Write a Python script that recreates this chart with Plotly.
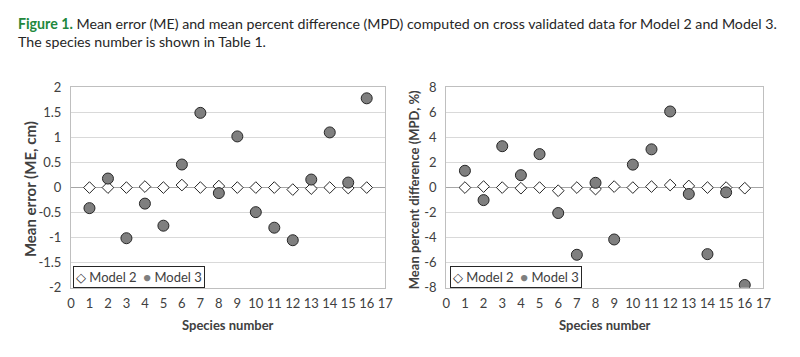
import plotly.graph_objects as go

species = list(range(1, 17))
me_model2 = [0.0, 0.0, 0.0, 0.02, 0.0, 0.05, 0.0, 0.03, 0.0, 0.0, 0.0, -0.04, -0.02, 0.0, -0.01, 0.0]
me_model3 = [-0.41, 0.18, -1.01, -0.32, -0.76, 0.46, 1.49, -0.11, 1.02, -0.49, -0.80, -1.05, 0.16, 1.10, 0.10, 1.78]
mpd_model2 = [0.0, 0.08, 0.0, -0.05, 0.0, -0.25, 0.0, -0.12, 0.08, 0.0, 0.08, 0.2, 0.13, 0.0, 0.0, -0.05]
mpd_model3 = [1.34, -1.0, 3.3, 0.99, 2.67, -2.03, -5.36, 0.38, -4.14, 1.83, 3.05, 6.07, -0.51, -5.31, -0.38, -7.77]

x_ticks = list(range(0, 18))
me_ticks = [-2, -1.5, -1, -0.5, 0, 0.5, 1, 1.5, 2]
mpd_ticks = [-8, -6, -4, -2, 0, 2, 4, 6, 8]
series_names = ["Model 2", "Model 3"]

FONT = "Lato, 'Open Sans', sans-serif"
TXT = "#404040"

m2 = dict(symbol="diamond", size=9, color="white", line=dict(color="#262626", width=1))
m3 = dict(symbol="circle", size=11, color="#7f7f7f", line=dict(color="#262626", width=1))

fig = go.Figure()
fig.add_trace(go.Scatter(x=species, y=me_model2, mode="markers", marker=m2, name=series_names[0],
                         xaxis="x", yaxis="y"))
fig.add_trace(go.Scatter(x=species, y=me_model3, mode="markers", marker=m3, name=series_names[1],
                         xaxis="x", yaxis="y"))
fig.add_trace(go.Scatter(x=species, y=mpd_model2, mode="markers", marker=m2, name=series_names[0],
                         xaxis="x2", yaxis="y2"))
fig.add_trace(go.Scatter(x=species, y=mpd_model3, mode="markers", marker=m3, name=series_names[1],
                         xaxis="x2", yaxis="y2"))

ydom = [1 - 293 / 357, 1 - 83 / 357]
common_x = dict(range=[0, 17], tickvals=x_ticks, ticktext=[str(v) for v in x_ticks],
                showgrid=False, zeroline=False, showline=True, linecolor="#bfbfbf", mirror=True,
                tickfont=dict(family=FONT, size=13, color=TXT), ticks="", ticklabelstandoff=4,
                fixedrange=True)
common_y = dict(showgrid=True, gridcolor="#d9d9d9", gridwidth=1, zeroline=True, zerolinecolor="#a6a6a6",
                zerolinewidth=1, showline=True, linecolor="#bfbfbf", mirror=True,
                tickfont=dict(family=FONT, size=13, color=TXT), ticks="", ticklabelstandoff=6, domain=ydom,
                fixedrange=True)

fig.update_layout(
    width=800, height=357,
    margin=dict(l=0, r=0, t=0, b=0),
    paper_bgcolor="white", plot_bgcolor="white",
    showlegend=False,
    xaxis=dict(domain=[68 / 800, 387 / 800], anchor="y", **common_x),
    yaxis=dict(range=[-2, 2], tickvals=me_ticks, ticktext=[str(v) for v in me_ticks], anchor="x", **common_y),
    xaxis2=dict(domain=[449 / 800, 771 / 800], anchor="y2", **common_x),
    yaxis2=dict(range=[-8, 8], tickvals=mpd_ticks, ticktext=[str(v) for v in mpd_ticks], anchor="x2", **common_y),
)

legend_text = ("<span style='color:#262626'>◇</span> " + series_names[0] +
               "  <span style='color:#7f7f7f'>●</span> " + series_names[1])

annotations = [
    dict(text="<span style='color:#22883c'><b>Figure 1.</b></span> Mean error (ME) and mean percent difference (MPD) computed on cross validated data for Model 2 and Model 3."
              "<br>The species number is shown in Table 1.",
         x=12 / 800, y=1 - 26 / 357, xref="paper", yref="paper", xanchor="left", yanchor="middle",
         align="left", showarrow=False, font=dict(family=FONT, size=14.2, color="#262626")),
    dict(text="<b>Species number</b>", x=(68 + 387) / 2 / 800, y=1 - 332 / 357, xref="paper", yref="paper",
         xanchor="center", yanchor="middle", showarrow=False, font=dict(family=FONT, size=13, color=TXT)),
    dict(text="<b>Species number</b>", x=(449 + 771) / 2 / 800, y=1 - 332 / 357, xref="paper", yref="paper",
         xanchor="center", yanchor="middle", showarrow=False, font=dict(family=FONT, size=13, color=TXT)),
    dict(text="<b>Mean error (ME, cm)</b>", x=27 / 800, y=1 - 190 / 357, xref="paper", yref="paper",
         xanchor="center", yanchor="middle", textangle=-90, showarrow=False, font=dict(family=FONT, size=15, color=TXT)),
    dict(text="<b>Mean percent difference (MPD, %)</b>", x=417 / 800, y=1 - 190 / 357, xref="paper", yref="paper",
         xanchor="center", yanchor="middle", textangle=-90, showarrow=False, font=dict(family=FONT, size=13, color=TXT)),
    dict(text=legend_text, x=70 / 800, y=1 - 282 / 357, xref="paper", yref="paper",
         xanchor="left", yanchor="middle", showarrow=False, bgcolor="white",
         bordercolor="#262626", borderwidth=1, borderpad=2, font=dict(family=FONT, size=13, color=TXT)),
    dict(text=legend_text, x=453 / 800, y=1 - 282 / 357, xref="paper", yref="paper",
         xanchor="left", yanchor="middle", showarrow=False, bgcolor="white",
         bordercolor="#262626", borderwidth=1, borderpad=2, font=dict(family=FONT, size=13, color=TXT)),
]
fig.update_layout(annotations=annotations)

fig.write_html("out.html", config={"displayModeBar": False},
               post_script="document.body.style.margin='0';")
